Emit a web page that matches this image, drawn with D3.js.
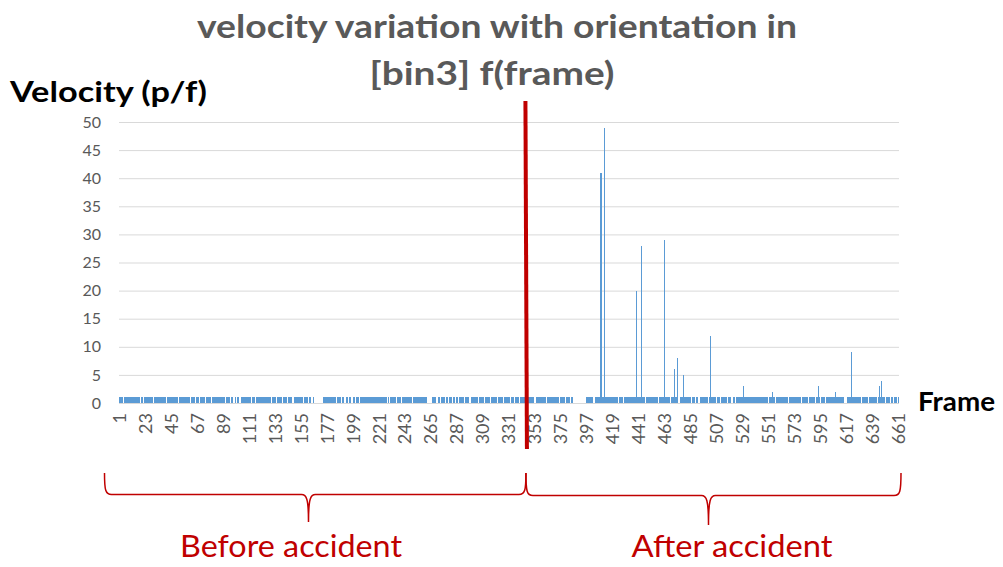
<!doctype html>
<html>
<head>
<meta charset="utf-8">
<script src="https://d3js.org/d3.v7.min.js"></script>
<style>
  body { margin: 0; background: #fff; }
  text { font-family: Lato, "Open Sans", sans-serif; }
</style>
<title>velocity variation</title>
</head>
<body>
<svg width="1003" height="567"></svg>
<script>
// velocity per frame, frames 1..661 (20 per row)
var velocity = [
  1,1,1,0,1,1,1,1,1,1,1,1,1,1,1,1,1,1,0,1,
  0,1,1,1,1,1,1,1,1,0,1,1,1,1,1,1,1,1,1,1,
  0,1,1,1,1,1,1,1,1,1,0,1,1,1,1,1,1,1,1,1,
  0,1,1,1,0,1,1,1,0,1,1,1,1,0,1,1,1,1,0,1,
  1,1,1,1,1,1,1,1,1,1,0,1,1,1,0,1,1,0,1,0,
  1,1,0,1,1,1,1,1,1,1,1,1,0,1,1,0,1,1,1,1,
  1,1,1,1,1,1,1,1,1,0,1,1,1,0,1,1,1,1,0,1,
  1,1,0,1,1,1,1,0,1,1,1,1,1,1,1,1,0,1,1,1,
  0,1,1,0,1,0,0,0,0,0,0,0,0,1,1,1,1,1,1,1,
  1,1,1,1,0,1,1,1,0,1,1,0,1,1,0,1,1,0,1,1,
  0,1,1,0,1,1,1,1,1,1,1,1,1,1,1,1,1,1,1,1,
  1,1,1,1,1,1,1,0,1,0,1,1,1,1,1,0,1,1,1,0,
  1,1,1,1,1,1,1,1,0,1,1,1,1,1,1,1,1,1,1,1,
  1,0,0,0,0,1,1,1,1,0,1,1,0,1,1,1,0,1,1,0,
  1,1,0,1,1,0,1,0,1,1,1,1,0,1,1,1,1,0,1,1,
  1,1,1,1,0,1,1,1,1,0,1,1,1,1,0,1,1,1,1,1,
  0,1,1,1,1,0,1,1,1,1,1,0,1,1,1,0,1,1,1,0,
  1,1,1,1,1,1,1,1,1,1,1,1,0,1,1,1,1,1,1,1,
  1,1,0,1,1,1,1,1,1,1,1,1,1,0,1,1,1,1,0,1,
  1,1,0,1,1,0,0,0,0,0,0,0,0,0,0,0,1,1,1,1,
  1,1,0,1,1,1,1,1,41,1,1,49,1,1,1,1,1,1,1,1,
  1,1,1,0,1,1,1,0,1,1,1,1,1,1,1,1,1,1,20,1,
  1,1,28,1,1,1,0,1,1,1,1,1,1,1,1,1,1,0,1,1,
  1,1,29,1,1,1,1,0,1,1,6,1,1,8,0,1,1,1,5,1,
  1,1,1,1,1,0,1,1,0,1,1,0,1,1,1,1,1,1,1,0,
  1,12,1,1,1,1,0,1,1,0,1,1,1,1,1,0,1,1,1,0,
  1,1,0,1,1,1,1,1,1,3,1,1,1,1,1,1,1,1,1,1,
  1,1,1,1,1,1,1,1,1,1,0,1,1,2,1,1,0,1,1,1,
  1,1,1,1,1,1,1,0,1,1,1,1,1,1,1,1,1,1,0,1,
  1,1,1,1,0,1,1,1,1,1,0,1,3,1,0,1,1,1,0,1,
  1,1,1,1,1,1,1,2,1,1,1,1,1,1,0,0,0,1,1,1,
  9,1,1,1,1,1,1,1,1,0,1,1,1,1,1,0,1,1,1,1,
  1,1,0,1,3,1,4,1,1,0,1,1,1,0,1,1,0,1,1,0,
  1
];
var frames = velocity.map(function(d, i) { return i + 1; });

var xTicks = [1, 23, 45, 67, 89, 111, 133, 155, 177, 199, 221, 243, 265, 287, 309,
              331, 353, 375, 397, 419, 441, 463, 485, 507, 529, 551, 573, 595, 617, 639, 661];
var yTicks = [0, 5, 10, 15, 20, 25, 30, 35, 40, 45, 50];

var accidentFrame = 345;
var periods = ["Before accident", "After accident"];

var svg = d3.select("svg"),
    plotLeft = 119, plotRight = 899,
    plotTop = 122, plotBottom = 403;

var x = d3.scaleBand().domain(frames).range([plotLeft, plotRight]).paddingInner(0),
    y = d3.scaleLinear().domain([0, 50]).range([plotBottom, plotTop]);

// title
svg.append("text")
   .attr("x", 497).attr("y", 38)
   .attr("text-anchor", "middle")
   .attr("textLength", 600).attr("lengthAdjust", "spacingAndGlyphs")
   .style("font-size", "33px").style("font-weight", "bold").style("fill", "#595959")
   .text("velocity variation with orientation in");
svg.append("text")
   .attr("x", 492).attr("y", 85)
   .attr("text-anchor", "middle")
   .attr("textLength", 245).attr("lengthAdjust", "spacingAndGlyphs")
   .style("font-size", "33px").style("font-weight", "bold").style("fill", "#595959")
   .text("[bin3] f(frame)");

// gridlines
svg.append("g")
   .selectAll("line")
   .data(yTicks)
   .enter().append("line")
   .attr("x1", plotLeft).attr("x2", plotRight)
   .attr("y1", function(d) { return y(d) + 0.5; })
   .attr("y2", function(d) { return y(d) + 0.5; })
   .style("stroke", "#d9d9d9").style("stroke-width", 1);

// y axis labels
var yAxis = svg.append("g")
   .attr("transform", "translate(" + plotLeft + ",0)")
   .call(d3.axisLeft(y).tickValues(yTicks).tickSize(0).tickPadding(18));
yAxis.select(".domain").remove();
yAxis.selectAll("text")
   .style("font-family", "Lato, sans-serif").style("font-size", "16px").style("fill", "#595959");

// x axis labels
var xAxis = svg.append("g")
   .attr("transform", "translate(0," + plotBottom + ")")
   .call(d3.axisBottom(x).tickValues(xTicks).tickSize(0));
xAxis.select(".domain").remove();
xAxis.selectAll("text")
   .attr("transform", "rotate(-90)")
   .attr("text-anchor", "end")
   .attr("x", -10).attr("y", 0).attr("dy", "0.35em")
   .style("font-family", "Lato, sans-serif").style("font-size", "18px").style("fill", "#595959");

// bars
svg.append("g")
   .attr("shape-rendering", "crispEdges")
   .selectAll("rect")
   .data(frames.filter(function(f) { return velocity[f - 1] > 0; }))
   .enter().append("rect")
   .attr("x", function(f) { return x(f); })
   .attr("y", function(f) { return y(velocity[f - 1]); })
   .attr("width", x.bandwidth())
   .attr("height", function(f) { return plotBottom - y(velocity[f - 1]); })
   .style("fill", "#5b9bd5");

// axis titles
svg.append("text")
   .attr("x", 10).attr("y", 102)
   .attr("textLength", 197).attr("lengthAdjust", "spacingAndGlyphs")
   .style("font-size", "28px").style("font-weight", "bold").style("fill", "#000")
   .text("Velocity (p/f)");
svg.append("text")
   .attr("x", 918).attr("y", 411)
   .attr("textLength", 77).attr("lengthAdjust", "spacingAndGlyphs")
   .style("font-size", "27px").style("font-weight", "bold").style("fill", "#000")
   .text("Frame");

// accident marker
var ax = x(accidentFrame);
svg.append("line")
   .attr("x1", ax + 0.5).attr("y1", 101)
   .attr("x2", ax + 2).attr("y2", 449)
   .style("stroke", "#c00000").style("stroke-width", 4);

// braces
function brace(x0, x1, tip, yTop, yMid, yTip) {
    return "M" + x0 + "," + yTop +
           " C" + x0 + "," + (yMid - 4) + " " + (x0 + 1) + "," + yMid + " " + (x0 + 7) + "," + yMid +
           " L" + (tip - 7) + "," + yMid +
           " C" + (tip - 2) + "," + yMid + " " + tip + "," + (yMid + 4) + " " + tip + "," + yTip +
           " C" + tip + "," + (yMid + 4) + " " + (tip + 2) + "," + yMid + " " + (tip + 7) + "," + yMid +
           " L" + (x1 - 7) + "," + yMid +
           " C" + (x1 - 1) + "," + yMid + " " + x1 + "," + (yMid - 4) + " " + x1 + "," + yTop;
}
svg.append("path")
   .attr("d", brace(104.5, ax + 1, 308.5, 473, 494.5, 522))
   .style("fill", "none").style("stroke", "#c00000").style("stroke-width", 1.5);
svg.append("path")
   .attr("d", brace(ax + 1, plotRight + 2, 708.5, 473, 495.5, 525))
   .style("fill", "none").style("stroke", "#c00000").style("stroke-width", 1.5);

svg.append("text")
   .attr("x", 291).attr("y", 557)
   .attr("text-anchor", "middle")
   .attr("textLength", 222).attr("lengthAdjust", "spacingAndGlyphs")
   .style("font-size", "30px").style("fill", "#c00000")
   .text(periods[0]);
svg.append("text")
   .attr("x", 732).attr("y", 557)
   .attr("text-anchor", "middle")
   .attr("textLength", 201).attr("lengthAdjust", "spacingAndGlyphs")
   .style("font-size", "30px").style("fill", "#c00000")
   .text(periods[1]);
</script>
</body>
</html>
